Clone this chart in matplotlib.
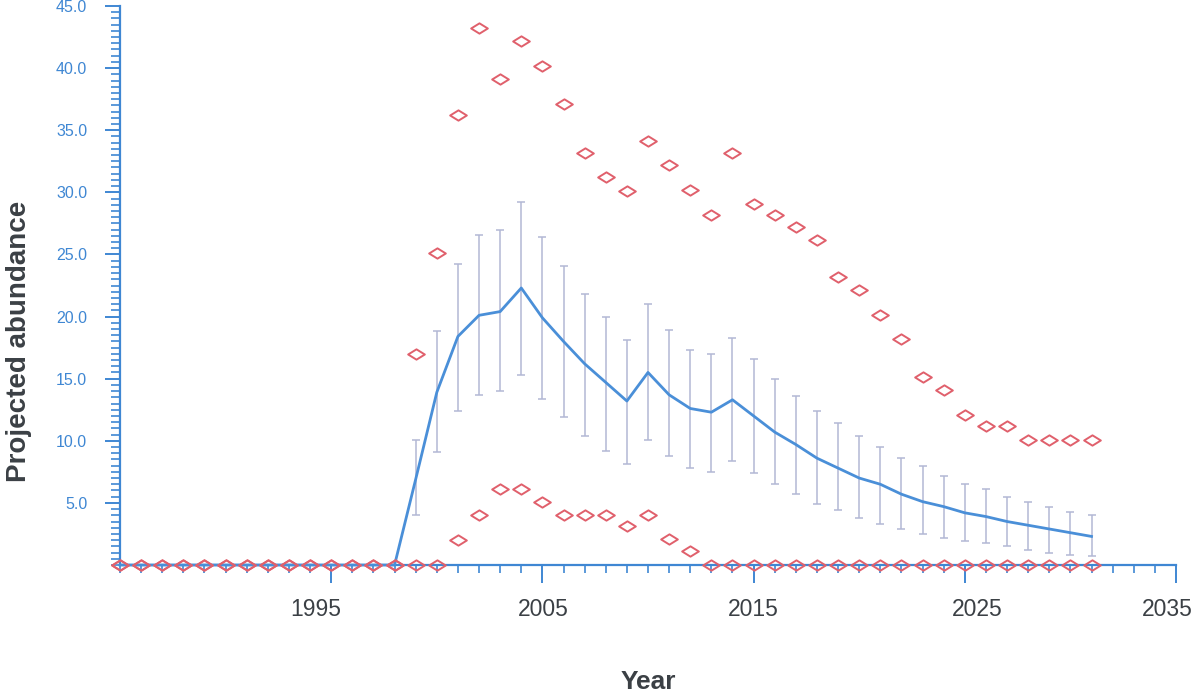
import matplotlib
matplotlib.use("Agg")
import matplotlib.pyplot as plt
import numpy as np
from matplotlib.path import Path
from matplotlib.ticker import MultipleLocator, FixedLocator, FuncFormatter
from matplotlib.transforms import ScaledTranslation

# ---------------- data ----------------
years = list(range(1985, 2032))

mean_years = list(range(1985, 2032))
mean_vals = [0.0] * 14 + [
    6.9, 13.9, 18.4, 20.1, 20.4, 22.3, 19.9, 18.0, 16.2, 14.7, 13.2, 15.5,
    13.7, 12.6, 12.3, 13.3, 12.0, 10.7, 9.7, 8.6, 7.8, 7.0, 6.5, 5.7, 5.1,
    4.7, 4.2, 3.9, 3.5, 3.2, 2.9, 2.6, 2.3]

err_years = list(range(1999, 2032))
err_upper = [
    10.1, 18.8, 24.2, 26.6, 27.0, 29.2, 26.4, 24.1, 21.8, 20.0, 18.1, 21.0,
    18.9, 17.3, 17.0, 18.3, 16.6, 15.0, 13.6, 12.4, 11.4, 10.4, 9.5, 8.6, 8.0,
    7.2, 6.5, 6.1, 5.5, 5.1, 4.7, 4.3, 4.0]
err_lower = [
    4.0, 9.1, 12.4, 13.7, 14.0, 15.3, 13.4, 11.9, 10.4, 9.2, 8.1, 10.1,
    8.8, 7.8, 7.5, 8.4, 7.4, 6.5, 5.7, 4.9, 4.4, 3.8, 3.3, 2.9, 2.5,
    2.2, 1.9, 1.8, 1.5, 1.2, 1.0, 0.8, 0.7]

max_vals = [0.0] * 14 + [
    17.0, 25.1, 36.2, 43.2, 39.1, 42.2, 40.2, 37.1, 33.2, 31.2, 30.1, 34.1,
    32.2, 30.2, 28.2, 33.2, 29.1, 28.2, 27.2, 26.2, 23.2, 22.1, 20.1, 18.2,
    15.1, 14.1, 12.1, 11.2, 11.2, 10.1, 10.1, 10.1, 10.1]
min_vals = [0.0] * 16 + [
    2.0, 4.0, 6.1, 6.1, 5.05, 4.0, 4.0, 4.0, 3.1, 4.0, 2.1, 1.15] + [0.0] * 19

x_major = [1995, 2005, 2015, 2025, 2035]
y_major = [5, 10, 15, 20, 25, 30, 35, 40, 45]

# ---------------- style ----------------
BLUE = "#3f87d3"
LINE = "#4a8fd8"
ERR = "#b3b8d5"
RED = "#e0606c"
DARK = "#3b4045"

plt.rcParams["font.family"] = ["Liberation Sans", "DejaVu Sans"]

fig = plt.figure(figsize=(11.97, 6.96), dpi=100)
ax = fig.add_axes([120 / 1197, 131 / 696, 1056 / 1197, 559 / 696])

# error bars
emean = np.array(mean_vals[14:])
eu = np.array(err_upper)
el = np.array(err_lower)
ax.errorbar(err_years, emean, yerr=[emean - el, eu - emean], fmt="none",
            ecolor=ERR, elinewidth=1.1, capsize=3, capthick=1.1, zorder=2)

# mean line
ax.plot(mean_years, mean_vals, color=LINE, lw=2.0, zorder=3, clip_on=False)

# flat diamond marker
diamond = Path([(-1, 0), (0, 0.62), (1, 0), (0, -0.62), (-1, 0)],
               [Path.MOVETO, Path.LINETO, Path.LINETO, Path.LINETO, Path.CLOSEPOLY])
ax.plot(years, max_vals, linestyle="none", marker=diamond, markersize=12,
        markerfacecolor="none", markeredgecolor=RED, markeredgewidth=1.4,
        zorder=5, clip_on=False)
ax.plot(years, min_vals, linestyle="none", marker=diamond, markersize=12,
        markerfacecolor="none", markeredgecolor=RED, markeredgewidth=1.4,
        zorder=5, clip_on=False)

# axes
ax.set_xlim(1985, 2035)
ax.set_ylim(0, 45)
for s in ["top", "right"]:
    ax.spines[s].set_visible(False)
for s in ["left", "bottom"]:
    ax.spines[s].set_color(BLUE)
    ax.spines[s].set_linewidth(1.6)

ax.xaxis.set_major_locator(FixedLocator(x_major))
ax.xaxis.set_minor_locator(MultipleLocator(1))
ax.yaxis.set_major_locator(FixedLocator(y_major))
ax.yaxis.set_minor_locator(MultipleLocator(0.5))
ax.yaxis.set_major_formatter(FuncFormatter(lambda v, p: f"{v:.1f}"))

ax.tick_params(axis="x", which="major", length=13, width=1.4, color=BLUE,
               labelsize=16.5, labelcolor=DARK, pad=11, direction="out")
ax.tick_params(axis="x", which="minor", length=5.5, width=1.2, color=BLUE,
               direction="out")
ax.tick_params(axis="y", which="major", length=10.5, width=1.4, color=BLUE,
               labelsize=11.5, labelcolor=BLUE, pad=13, direction="out")
ax.tick_params(axis="y", which="minor", length=6.5, width=1.2, color=BLUE,
               direction="out")

# small horizontal shifts of x tick labels as in the reference
label_shift_px = [-15, 1, 0, 12, -9]
for lab, dx in zip(ax.get_xticklabels(), label_shift_px):
    lab.set_transform(lab.get_transform() + ScaledTranslation(dx / 100, 0, fig.dpi_scale_trans))

ax.set_xlabel("Year", fontsize=19, fontweight="bold", color=DARK)
ax.set_ylabel("Projected abundance", fontsize=20, fontweight="bold", color=DARK)
ax.xaxis.set_label_coords(0.5, -0.187)
ax.yaxis.set_label_coords(-0.083, 0.40)

fig.savefig("out.png", dpi=100, facecolor="white")
